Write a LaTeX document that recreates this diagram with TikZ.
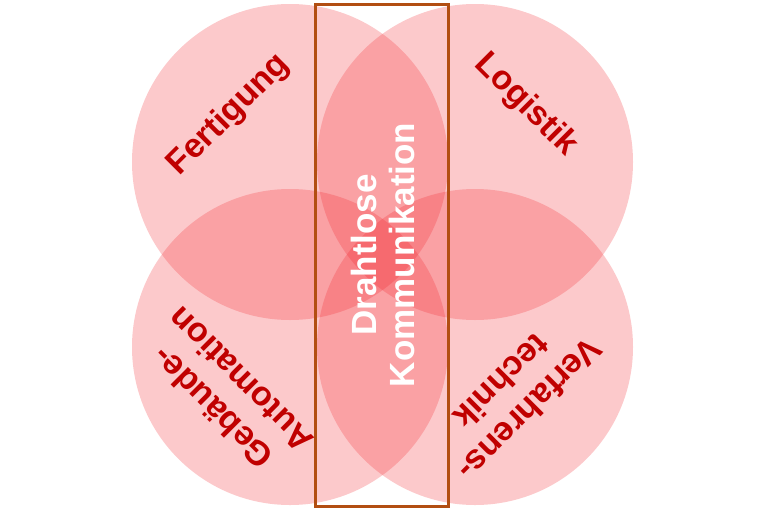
\documentclass[tikz,border=0pt]{standalone}
\usepackage{fontspec}
\setmainfont{Liberation Sans}
\definecolor{circfill}{RGB}{242,30,38}
\definecolor{txtred}{RGB}{192,0,0}
\definecolor{framebrown}{RGB}{178,78,18}
\begin{document}
\begin{tikzpicture}[x=1pt,y=-1pt,
  circ/.style={circle, fill=circfill, fill opacity=0.24, minimum size=316pt, inner sep=0pt},
  lbl/.style={text=txtred, font=\fontsize{34}{40}\selectfont\bfseries, align=center, inner sep=0pt},
  midlbl/.style={text=white, font=\fontsize{35}{38}\selectfont\bfseries, align=center, inner sep=0pt},
  framebox/.style={draw=framebrown, line width=3pt, minimum width=133pt, minimum height=502pt, inner sep=0pt}]
\useasboundingbox (0,0) rectangle (768,512);
\node[circ] (c1) at (290,162) {};
\node[circ] (c2) at (475,162) {};
\node[circ] (c3) at (290,347) {};
\node[circ] (c4) at (475,347) {};
\node[framebox] (fr) at (381.5,255) {};
\node[midlbl, rotate=90] (mid) at (383,255) {Drahtlose\\Kommunikation};
\node[lbl, rotate=45] (fert) at (229,115) {Fertigung};
\node[lbl, rotate=-45] (logi) at (526,105) {Logistik};
\node[lbl, rotate=135] (geb) at (226,394) {Gebäude-\\Automation};
\node[lbl, rotate=225] (verf) at (516,396) {Verfahrens-\\technik};
\end{tikzpicture}
\end{document}
